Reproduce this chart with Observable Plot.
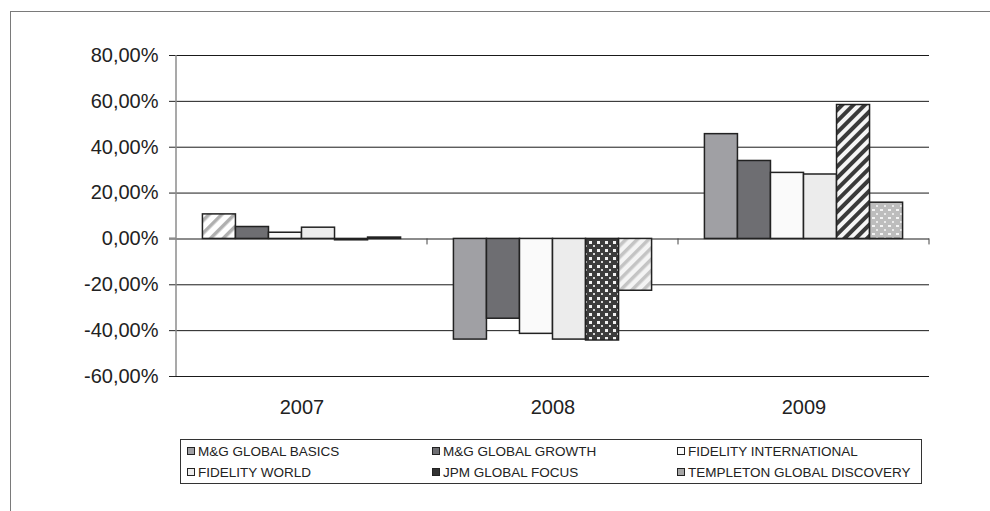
<!DOCTYPE html>
<html><head><meta charset="utf-8">
<script src="https://cdn.jsdelivr.net/npm/d3@7"></script>
<script src="https://cdn.jsdelivr.net/npm/@observablehq/plot@0.6"></script>
<style>
body{margin:0;background:#fff;font-family:"Liberation Sans",Arial,sans-serif;}
#wrap{position:relative;width:990px;height:511px;overflow:hidden;background:#fff;}
#frame{position:absolute;left:10px;top:11px;width:1000px;height:600px;border-left:1px solid #7a7a7a;border-top:1px solid #7a7a7a;}
#chart{position:absolute;left:0;top:0;}
#legend{position:absolute;left:180px;top:439px;width:742px;height:45px;border:1px solid #333;box-sizing:border-box;}
.item{position:absolute;display:flex;align-items:center;height:16px;font-size:13.5px;color:#222;white-space:nowrap;}
.sw{display:inline-block;width:6px;height:6px;border:1px solid #222;margin-right:3px;}
</style>
</head><body>
<div id="wrap"><div id="frame"></div><div id="chart"></div><div id="legend"></div></div>
<script>
const years = ["2007", "2008", "2009"];
const series = ["M&G GLOBAL BASICS", "M&G GLOBAL GROWTH", "FIDELITY INTERNATIONAL", "FIDELITY WORLD", "JPM GLOBAL FOCUS", "TEMPLETON GLOBAL DISCOVERY"];
const mgBasics  = [10.7, -43.9, 45.7];
const mgGrowth  = [5.2, -34.8, 34.0];
const fidIntl   = [2.7, -41.4, 28.8];
const fidWorld  = [4.9, -43.9, 28.1];
const jpmFocus  = [-0.6, -44.3, 58.4];
const templeton = [0.6, -22.6, 15.8];
const yTicks = [-60, -40, -20, 0, 20, 40, 60, 80];

const seriesValues = [mgBasics, mgGrowth, fidIntl, fidWorld, jpmFocus, templeton];
const data = [];
series.forEach((s, i) => years.forEach((y, j) => data.push({series: s, year: y, value: seriesValues[i][j]})));

const legendColors = ["#a0a0a4", "#6e6e72", "#fafafa", "#ececec", "#333333", "#a6a6a6"];
function fillOf(d) {
  const i = series.indexOf(d.series);
  if (i === 0) return d.year === "2007" ? "url(#pDiagGray)" : "#a0a0a4";
  if (i === 1) return "#6e6e72";
  if (i === 2) return "#fafafa";
  if (i === 3) return "#ececec";
  if (i === 4) return d.year === "2007" ? "#333333" : d.year === "2008" ? "url(#pCheck)" : "url(#pDiagDark)";
  return d.year === "2007" ? "#555555" : d.year === "2008" ? "url(#pDiagLight)" : "url(#pSpots)";
}

const fmt = d => d.toFixed(2).replace(".", ",") + "%";

const chart = Plot.plot({
  width: 990, height: 430,
  marginTop: 55, marginBottom: 54, marginLeft: 175, marginRight: 61,
  style: {fontFamily: "Liberation Sans, Arial, sans-serif", fontSize: "20px", color: "#222", background: "transparent", overflow: "visible"},
  fx: {domain: years, paddingInner: 0, paddingOuter: 0, label: null, axis: "bottom", tickSize: 0, tickPadding: 23},
  x: {domain: series, paddingInner: 0, paddingOuter: 0.8, round: false, axis: null},
  y: {domain: [-60, 80], ticks: yTicks, tickFormat: fmt, label: null, tickSize: 7, tickPadding: 11},
  color: {type: "identity"},
  marks: [
    Plot.ruleY(yTicks.filter(t => t !== 0), {stroke: "#1a1a1a", strokeWidth: 1}),
    Plot.ruleY([0], {stroke: "#8c8c8c", strokeWidth: 2}),
    Plot.barY(data, {fx: "year", x: "series", y: "value", fill: fillOf, stroke: "#222", strokeWidth: 1.5})
  ]
});

chart.insertAdjacentHTML("afterbegin", `
<defs>
  <pattern id="pDiagGray" width="9" height="9" patternUnits="userSpaceOnUse" patternTransform="rotate(45)">
    <rect width="9" height="9" fill="#ffffff"/><rect width="3.5" height="9" fill="#b0b0b0"/>
  </pattern>
  <pattern id="pDiagLight" width="8" height="8" patternUnits="userSpaceOnUse" patternTransform="rotate(45)">
    <rect width="8" height="8" fill="#f4f4f4"/><rect width="3.5" height="8" fill="#c4c4c4"/>
  </pattern>
  <pattern id="pDiagDark" width="8" height="8" patternUnits="userSpaceOnUse" patternTransform="rotate(45)">
    <rect width="8" height="8" fill="#f6f6f6"/><rect width="4" height="8" fill="#3a3a3a"/>
  </pattern>
  <pattern id="pCheck" width="8" height="8" patternUnits="userSpaceOnUse">
    <rect width="8" height="8" fill="#3c3c3c"/><rect x="1" y="1" width="3" height="3" fill="#f2f2f2"/><rect x="5" y="5" width="2" height="2" fill="#d8d8d8"/>
  </pattern>
  <pattern id="pSpots" width="8" height="8" patternUnits="userSpaceOnUse">
    <rect width="8" height="8" fill="#bdbdbd"/><rect x="1" y="1" width="3" height="2" fill="#f4f4f4"/><rect x="5" y="5" width="2" height="2" fill="#eaeaea"/>
  </pattern>
</defs>`);

// axis decorations: vertical y-axis line and category tick marks below the zero line
const fxS = chart.scale("fx"), yS = chart.scale("y");
const ns = "http://www.w3.org/2000/svg";
function addLine(x1, y1, x2, y2, stroke, w) {
  const l = document.createElementNS(ns, "line");
  l.setAttribute("x1", x1); l.setAttribute("y1", y1); l.setAttribute("x2", x2); l.setAttribute("y2", y2);
  l.setAttribute("stroke", stroke); l.setAttribute("stroke-width", w);
  chart.appendChild(l);
}
const x0 = fxS.apply(years[0]);
addLine(x0, yS.apply(yTicks[yTicks.length - 1]), x0, yS.apply(yTicks[0]), "#8c8c8c", 1.5);
years.forEach(y => {
  const xr = fxS.apply(y) + fxS.bandwidth;
  addLine(xr, yS.apply(0), xr, yS.apply(0) + 6, "#444", 1);
});
addLine(x0 - 7, yS.apply(0), x0, yS.apply(0), "#8c8c8c", 2);

document.getElementById("chart").appendChild(chart);

// legend
const legend = document.getElementById("legend");
const colX = [6, 251, 496];
const rowY = [3, 24];
series.forEach((s, i) => {
  const div = document.createElement("div");
  div.className = "item";
  div.style.left = colX[i % 3] + "px";
  div.style.top = rowY[Math.floor(i / 3)] + "px";
  const sw = document.createElement("span");
  sw.className = "sw";
  sw.style.background = legendColors[i];
  div.appendChild(sw);
  div.appendChild(document.createTextNode(s));
  legend.appendChild(div);
});
</script>
</body></html>
